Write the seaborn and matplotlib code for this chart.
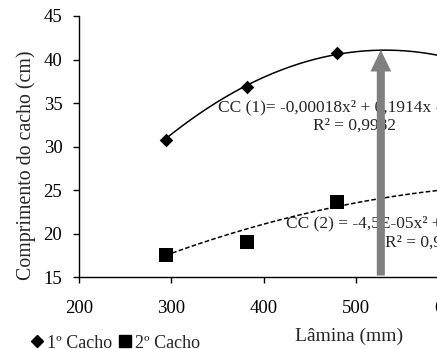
import numpy as np
import pandas as pd
import matplotlib
matplotlib.use("Agg")
import matplotlib.pyplot as plt
import seaborn as sns
from matplotlib.lines import Line2D
from matplotlib.patches import FancyArrowPatch

# ---- data ----
lamina = [294, 382, 479]
cacho1 = [30.8, 36.8, 40.7]
cacho2 = [17.6, 19.1, 23.7]
series_names = ["1º Cacho", "2º Cacho"]
coef1 = [-0.00018, 0.1914, -9.8]      # CC (1) trendline
coef2 = [-4.5e-05, 0.065, 2.3]        # CC (2) trendline
trend_range = [294, 650]
x_ticks = [200, 300, 400, 500, 600, 700, 800]
y_ticks = [15, 20, 25, 30, 35, 40, 45]
eq1_text = "CC (1)= -0,00018x² + 0,1914x - 9,8"
r2_1_text = "R² = 0,9982"
eq2_text = "CC (2) = -4,5E-05x² + 0,065x + 2,3"
r2_2_text = "R² = 0,9546"
arrow_x = 527
arrow_y = [15.2, 41.1]
x_label = "Lâmina (mm)"
y_label = "Comprimento do cacho (cm)"

sns.set_style("ticks")
plt.rcParams["font.family"] = ["Liberation Serif", "DejaVu Sans"]

W, H = 437, 349
fig = plt.figure(figsize=(W / 100, H / 100), dpi=100)
ax = fig.add_axes([79 / W, (H - 277.3) / H, (632.8 - 79) / W, (277.3 - 16) / H])

pts = pd.DataFrame({"x": lamina, "c1": cacho1, "c2": cacho2})
xs = np.linspace(trend_range[0], trend_range[1], 200)
trend = pd.DataFrame({"x": xs, "t1": np.polyval(coef1, xs), "t2": np.polyval(coef2, xs)})

sns.lineplot(data=trend, x="x", y="t1", ax=ax, color="black", linewidth=1.1, zorder=2)
sns.lineplot(data=trend, x="x", y="t2", ax=ax, color="black", linewidth=1.1,
             linestyle=(0, (3, 1.5)), zorder=2)
sns.scatterplot(data=pts, x="x", y="c1", ax=ax, marker="D", s=48, color="black",
                edgecolor="black", linewidth=0, zorder=4)
sns.scatterplot(data=pts, x="x", y="c2", ax=ax, marker="s", s=88, color="black",
                edgecolor="black", linewidth=0, zorder=4)

ax.set_xlim(200, 800)
ax.set_ylim(15, 45)
ax.set_xticks(x_ticks)
ax.set_yticks(y_ticks)
ax.tick_params(axis="both", labelsize=13.5, length=4, width=1, color="black",
               direction="out", labelcolor="black")
ax.tick_params(axis="x", pad=12.5)
ax.tick_params(axis="y", pad=8)
for s in ["top", "right"]:
    ax.spines[s].set_visible(False)
for s in ["left", "bottom"]:
    ax.spines[s].set_color("black")
    ax.spines[s].set_linewidth(1.0)

ax.set_xlabel(x_label, fontsize=14)
ax.set_ylabel(y_label, fontsize=14.3)
ax.xaxis.set_label_coords(349 / W, 1 - 341 / H, transform=fig.transFigure)
ax.xaxis.label.set_va("baseline")
ax.yaxis.set_label_coords(26 / W, 1 - 165 / H, transform=fig.transFigure)
ax.yaxis.label.set_va("center")

# trendline equations
ax.text(350.6, 34.1, eq1_text, fontsize=12.5, ha="left", va="baseline", zorder=3, clip_on=False)
ax.text(453.5, 32.0, r2_1_text, fontsize=12.5, ha="left", va="baseline", zorder=3, clip_on=False)
ax.text(424.3, 20.75, eq2_text, fontsize=12.5, ha="left", va="baseline", zorder=3, clip_on=False)
ax.text(531.5, 18.56, r2_2_text, fontsize=12.5, ha="left", va="baseline", zorder=3, clip_on=False)

# gray arrow
arr = FancyArrowPatch((arrow_x, arrow_y[0]), (arrow_x, arrow_y[1]),
                      arrowstyle="simple,head_length=15.5,head_width=15,tail_width=5.8",
                      mutation_scale=1, shrinkA=0, shrinkB=0, color="#808080",
                      linewidth=0, zorder=6, clip_on=False)
ax.add_patch(arr)

handles = [Line2D([], [], marker="D", color="black", ls="none", markersize=6.4),
           Line2D([], [], marker="s", color="black", ls="none", markersize=9.2)]
fig.legend(handles, series_names, loc="center left", bbox_to_anchor=(32 / W, 1 - 343 / H),
           ncol=2, frameon=False, fontsize=13, handlelength=0.6, handletextpad=0.25,
           columnspacing=0.4, borderpad=0, borderaxespad=0)

fig.savefig("out.png", dpi=100)
